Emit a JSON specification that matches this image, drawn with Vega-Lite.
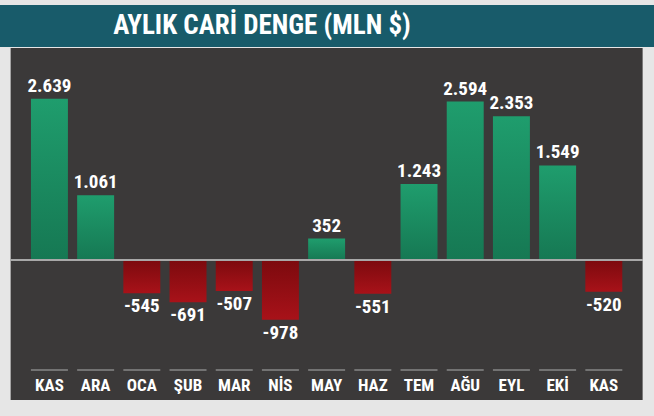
{
  "$schema": "https://vega.github.io/schema/vega-lite/v6.json",
  "background": "#e6e6e6",
  "padding": {"top": 5, "left": 0, "right": 0, "bottom": 16},
  "spacing": 1,
  "center": true,
  "config": {
    "locale": {"number": {"decimal": ",", "thousands": ".", "grouping": [3], "currency": ["", ""], "minus": "-"}},
    "font": "Roboto Condensed, Noto Sans Condensed, DejaVu Sans Condensed, sans-serif"
  },
  "vconcat": [
    {
      "width": 654,
      "height": 42,
      "view": {"fill": "#185b6a", "stroke": null},
      "data": {"values": [{"t": "AYLIK CARİ DENGE (MLN $)"}]},
      "mark": {"type": "text", "font": "Roboto Condensed, Noto Sans Condensed, DejaVu Sans Condensed, sans-serif", "fontWeight": "bold", "fontSize": 27, "color": "#ffffff", "baseline": "middle", "align": "center", "dx": -65},
      "encoding": {"text": {"field": "t"}}
    },
    {
      "width": 632,
      "height": 352,
      "view": {"fill": "#3b3939", "stroke": null},
      "data": {"values": [
        {"ay": "KAS", "v": 2639},
        {"ay": "ARA", "v": 1061},
        {"ay": "OCA", "v": -545},
        {"ay": "ŞUB", "v": -691},
        {"ay": "MAR", "v": -507},
        {"ay": "NİS", "v": -978},
        {"ay": "MAY", "v": 352},
        {"ay": "HAZ", "v": -551},
        {"ay": "TEM", "v": 1243},
        {"ay": "AĞU", "v": 2594},
        {"ay": "EYL", "v": 2353},
        {"ay": "EKİ", "v": 1549},
        {"ay": "KAS2", "v": -520}
      ]},
      "encoding": {
        "x": {
          "field": "ay", "type": "nominal",
          "sort": ["KAS", "ARA", "OCA", "ŞUB", "MAR", "NİS", "MAY", "HAZ", "TEM", "AĞU", "EYL", "EKİ", "KAS2"],
          "scale": {"paddingInner": 0.2, "paddingOuter": 0.44},
          "axis": {"title": null, "orient": "bottom", "offset": -23, "domain": false, "ticks": false, "labelPadding": 0, "labelAngle": 0,
            "labelExpr": "replace(datum.label, '2', '')", "labelColor": "#ffffff", "labelFont": "Roboto Condensed, Noto Sans Condensed, DejaVu Sans Condensed, sans-serif", "labelFontWeight": "bold", "labelFontSize": 17, "labelBaseline": "top"}
        }
      },
      "layer": [
        {
          "transform": [{"filter": "datum.v >= 0"}],
          "mark": {"type": "bar", "color": {"gradient": "linear", "x1": 0, "y1": 0, "x2": 0, "y2": 1, "stops": [{"offset": 0, "color": "#1f9d6d"}, {"offset": 1, "color": "#167853"}]}},
          "encoding": {
            "y": {"field": "v", "type": "quantitative", "scale": {"domain": [-2290, 3470], "nice": false, "zero": true}, "axis": null}
          }
        },
        {
          "transform": [{"filter": "datum.v < 0"}],
          "mark": {"type": "bar", "color": {"gradient": "linear", "x1": 0, "y1": 0, "x2": 0, "y2": 1, "stops": [{"offset": 0, "color": "#7c0a0e"}, {"offset": 1, "color": "#a81219"}]}},
          "encoding": {
            "y": {"field": "v", "type": "quantitative"}
          }
        },
        {
          "mark": {"type": "rule", "color": "#a9a9a9", "strokeWidth": 1.5},
          "encoding": {"y": {"datum": 0}, "x": null}
        },
        {
          "mark": {"type": "tick", "color": "#8c8c8c", "thickness": 2, "orient": "horizontal", "size": 37},
          "encoding": {"y": {"datum": -1800}}
        },
        {
          "transform": [{"filter": "datum.v >= 0"}],
          "mark": {"type": "text", "color": "#ffffff", "font": "Roboto Condensed, Noto Sans Condensed, DejaVu Sans Condensed, sans-serif", "fontWeight": "bold", "fontSize": 19, "baseline": "bottom", "dy": -3},
          "encoding": {"y": {"field": "v", "type": "quantitative"}, "text": {"field": "v", "type": "quantitative", "format": ","}}
        },
        {
          "transform": [{"filter": "datum.v < 0"}],
          "mark": {"type": "text", "color": "#ffffff", "font": "Roboto Condensed, Noto Sans Condensed, DejaVu Sans Condensed, sans-serif", "fontWeight": "bold", "fontSize": 19, "baseline": "top", "dy": 4},
          "encoding": {"y": {"field": "v", "type": "quantitative"}, "text": {"field": "v", "type": "quantitative", "format": ","}}
        }
      ]
    }
  ]
}
